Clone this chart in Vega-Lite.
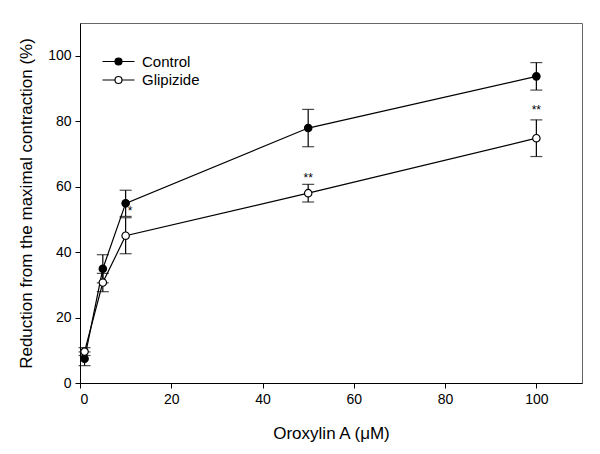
{
  "$schema": "https://vega.github.io/schema/vega-lite/v6.json",
  "autosize": "none",
  "width": 502,
  "height": 360,
  "padding": {"left": 80, "top": 23, "right": 18, "bottom": 71},
  "background": "white",
  "config": {
    "font": "Liberation Sans",
    "view": {"stroke": "#666", "strokeWidth": 1}
  },
  "datasets": {
    "pts": [
      {"group": "Control", "x": 1, "y": 7.4, "lo": 5.3, "hi": 9.5},
      {"group": "Control", "x": 5, "y": 34.9, "lo": 30.6, "hi": 39.2},
      {"group": "Control", "x": 10, "y": 54.9, "lo": 50.9, "hi": 58.9},
      {"group": "Control", "x": 50, "y": 77.9, "lo": 72.2, "hi": 83.6},
      {"group": "Control", "x": 100, "y": 93.7, "lo": 89.5, "hi": 97.9},
      {"group": "Glipizide", "x": 1, "y": 9.6, "lo": 8.4, "hi": 10.8},
      {"group": "Glipizide", "x": 5, "y": 30.7, "lo": 27.9, "hi": 33.5},
      {"group": "Glipizide", "x": 10, "y": 45.0, "lo": 39.5, "hi": 50.5},
      {"group": "Glipizide", "x": 50, "y": 58.0, "lo": 55.3, "hi": 60.7},
      {"group": "Glipizide", "x": 100, "y": 74.8, "lo": 69.2, "hi": 80.4}
    ],
    "stars": [
      {"x": 11, "y": 52.6, "label": "*"},
      {"x": 50, "y": 62.5, "label": "**"},
      {"x": 100, "y": 83.5, "label": "**"}
    ]
  },
  "layer": [
    {
      "data": {"name": "pts"},
      "mark": {"type": "line", "color": "black", "strokeWidth": 1.2},
      "encoding": {
        "x": {"field": "x", "type": "quantitative",
          "scale": {"domain": [0, 110], "nice": false},
          "axis": {"values": [0, 20, 40, 60, 80, 100], "title": "Oroxylin A (μM)", "grid": false,
            "domainColor": "black", "tickColor": "black", "tickSize": 5,
            "labelFontSize": 14, "labelColor": "black", "labelPadding": 4,
            "titleFontSize": 17, "titleFontWeight": "normal", "titleColor": "black", "titlePadding": 19}},
        "y": {"field": "y", "type": "quantitative",
          "scale": {"domain": [0, 110], "nice": false},
          "axis": {"values": [0, 20, 40, 60, 80, 100], "title": "Reduction from the maximal contraction (%)", "grid": false,
            "domainColor": "black", "tickColor": "black", "tickSize": 5,
            "labelFontSize": 14, "labelColor": "black", "labelPadding": 4,
            "titleFontSize": 17, "titleFontWeight": "normal", "titleColor": "black", "titlePadding": 12}},
        "detail": {"field": "group"}
      }
    },
    {
      "data": {"name": "pts"},
      "mark": {"type": "rule", "color": "black", "strokeWidth": 1.2},
      "encoding": {
        "x": {"field": "x", "type": "quantitative"},
        "y": {"field": "lo", "type": "quantitative"},
        "y2": {"field": "hi"}
      }
    },
    {
      "data": {"name": "pts"},
      "mark": {"type": "tick", "orient": "horizontal", "color": "black", "size": 12, "thickness": 1.2},
      "encoding": {
        "x": {"field": "x", "type": "quantitative"},
        "y": {"field": "lo", "type": "quantitative"}
      }
    },
    {
      "data": {"name": "pts"},
      "mark": {"type": "tick", "orient": "horizontal", "color": "black", "size": 12, "thickness": 1.2},
      "encoding": {
        "x": {"field": "x", "type": "quantitative"},
        "y": {"field": "hi", "type": "quantitative"}
      }
    },
    {
      "data": {"name": "pts"},
      "mark": {"type": "point", "filled": true, "shape": "circle", "size": 55, "stroke": "black", "strokeWidth": 1.2, "opacity": 1},
      "encoding": {
        "x": {"field": "x", "type": "quantitative"},
        "y": {"field": "y", "type": "quantitative"},
        "fill": {"field": "group", "type": "nominal",
          "scale": {"domain": ["Control", "Glipizide"], "range": ["black", "white"]},
          "legend": {"title": null, "orient": "none", "legendX": 31, "legendY": 31,
            "symbolType": "M-3.2,0L-0.7,0M0.7,0L3.2,0M-0.7,0A0.7,0.7,0,1,1,0.7,0A0.7,0.7,0,1,1,-0.7,0Z",
            "symbolSize": 100, "symbolStrokeColor": "black", "symbolStrokeWidth": 1.2, "symbolOpacity": 1,
            "labelFontSize": 15, "labelColor": "black", "labelOffset": 16, "rowPadding": 2.5}}
      }
    },
    {
      "data": {"name": "stars"},
      "mark": {"type": "text", "fontSize": 12, "color": "black", "baseline": "middle", "align": "center"},
      "encoding": {
        "x": {"field": "x", "type": "quantitative"},
        "y": {"field": "y", "type": "quantitative"},
        "text": {"field": "label"}
      }
    }
  ]
}
